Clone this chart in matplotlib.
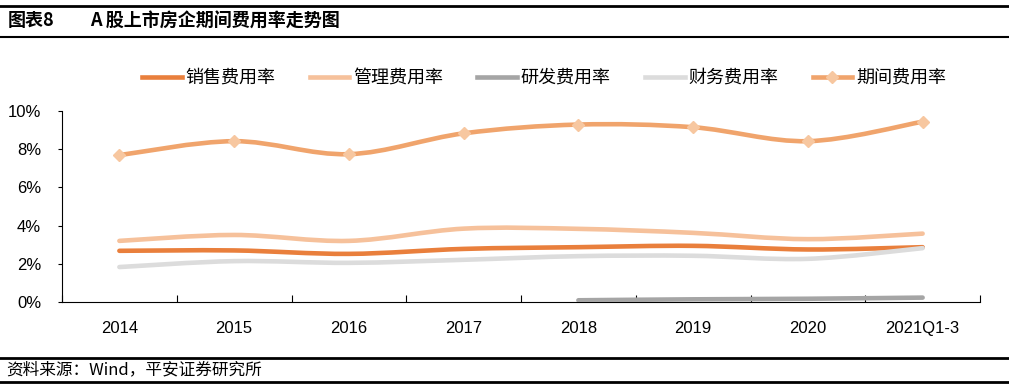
import matplotlib
matplotlib.use('Agg')
import matplotlib.pyplot as plt
import numpy as np
from matplotlib.path import Path
from matplotlib.patches import PathPatch
from matplotlib.lines import Line2D

plt.rcParams['font.family'] = ['Noto Sans CJK SC', 'DejaVu Sans']

categories = ['2014', '2015', '2016', '2017', '2018', '2019', '2020', '2021Q1-3']
sales = [2.68, 2.70, 2.52, 2.78, 2.87, 2.94, 2.75, 2.87]
admin = [3.20, 3.51, 3.20, 3.84, 3.83, 3.62, 3.29, 3.58]
rnd = [None, None, None, None, 0.09, 0.14, 0.17, 0.23]
finance = [1.83, 2.14, 2.05, 2.21, 2.40, 2.42, 2.26, 2.82]
period = [7.69, 8.42, 7.74, 8.83, 9.29, 9.15, 8.42, 9.44]

names = ['销售费用率', '管理费用率', '研发费用率', '财务费用率', '期间费用率']
colors = ['#E97F3C', '#F6C19B', '#A5A5A5', '#DCDCDC', '#F0A46C']
marker_color = '#F7C7A0'


def smooth_path(xs, ys, tension=1 / 6):
    """Excel-like smoothed line as a cubic bezier path."""
    pts = np.column_stack([xs, ys])
    verts = [pts[0]]
    codes = [Path.MOVETO]
    n = len(pts)
    for i in range(n - 1):
        p0 = pts[max(i - 1, 0)]
        p1 = pts[i]
        p2 = pts[i + 1]
        p3 = pts[min(i + 2, n - 1)]
        c1 = p1 + (p2 - p0) * tension
        c2 = p2 - (p3 - p1) * tension
        verts += [c1, c2, p2]
        codes += [Path.CURVE4] * 3
    return Path(verts, codes)


fig = plt.figure(figsize=(10.09, 3.88), dpi=100)
ax = fig.add_axes([62 / 1009, 1 - 302 / 388, (980 - 62) / 1009, (302 - 111) / 388])

x = np.arange(len(categories))
series = [sales, admin, rnd, finance, period]
order = [1, 0, 3, 2, 4]
for k in order:
    vals = series[k]
    xs = [xi for xi, v in zip(x, vals) if v is not None]
    ys = [v for v in vals if v is not None]
    patch = PathPatch(smooth_path(xs, ys), facecolor='none', edgecolor=colors[k],
                      lw=3.3, capstyle='round', joinstyle='round', zorder=3)
    ax.add_patch(patch)

ax.plot(x, period, linestyle='none', marker='D', markersize=6,
        color=marker_color, zorder=4)

ax.set_xlim(-0.5, len(categories) - 0.5)
ax.set_ylim(0, 10)
ax.set_yticks(np.arange(0, 11, 2))
ax.set_yticklabels(['%d%%' % v for v in range(0, 11, 2)])
ax.set_xticks(x)
ax.set_xticklabels(categories)
ax.set_xticks(np.arange(-0.5, len(categories)), minor=True)
ax.tick_params(axis='x', which='major', length=0, pad=14, labelsize=12)
ax.tick_params(axis='x', which='minor', direction='in', length=5, width=0.8)
ax.tick_params(axis='y', length=3, width=0.8, labelsize=12, pad=12)
for lbl in ax.get_xticklabels() + ax.get_yticklabels():
    lbl.set_family(['Liberation Sans', 'DejaVu Sans'])
ax.spines['top'].set_visible(False)
ax.spines['right'].set_visible(False)
ax.spines['left'].set_linewidth(0.8)
ax.spines['bottom'].set_linewidth(0.8)

handles = []
for k in range(5):
    if k == 4:
        h = Line2D([], [], color=colors[k], lw=3.3, marker='D', markersize=6,
                   markerfacecolor=marker_color, markeredgecolor=marker_color)
    else:
        h = Line2D([], [], color=colors[k], lw=3.3)
    handles.append(h)
fig.legend(handles, names, loc='center', bbox_to_anchor=(544 / 1009, 1 - 78 / 388),
           ncol=5, frameon=False, fontsize=13, handlelength=2.2,
           handletextpad=0.2, columnspacing=1.9)

# header and footer rules
for yy, lw in [(6, 2.0), (37, 1.5), (358, 2.0), (382, 2.0)]:
    fig.add_artist(Line2D([0, 1], [1 - yy / 388] * 2, color='black', lw=lw,
                          transform=fig.transFigure))
fig.text(8 / 1009, 1 - 21 / 388, '图表8', fontsize=13, fontweight='bold', va='center')
fig.text(90 / 1009, 1 - 21 / 388, 'A 股上市房企期间费用率走势图', fontsize=13,
         fontweight='bold', va='center')
fig.text(6 / 1009, 1 - 370 / 388, '资料来源：Wind，平安证券研究所', fontsize=12,
         style='italic', va='center')

fig.savefig('out.png', dpi=100)
